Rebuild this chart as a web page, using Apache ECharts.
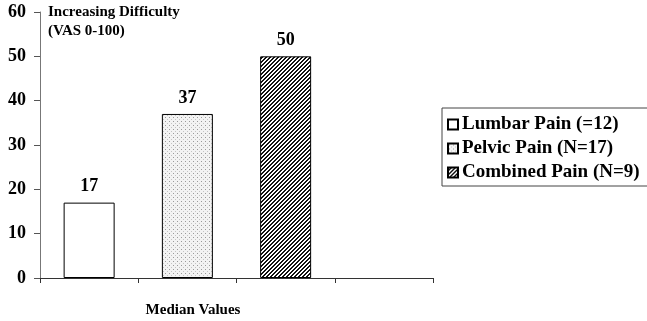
<!DOCTYPE html>
<html>
<head>
<meta charset="utf-8">
<script src="https://cdn.jsdelivr.net/npm/echarts@6/dist/echarts.min.js"></script>
<style>
  html, body { margin: 0; padding: 0; background: #fff; }
  #chart { width: 647px; height: 321px; }
</style>
</head>
<body>
<div id="chart"></div>
<script>
// Median difficulty scores (VAS 0-100) per pain group
const groups = ['Lumbar Pain (=12)', 'Pelvic Pain (N=17)', 'Combined Pain (N=9)'];
const medians = [17, 37, 50];
const slots = ['a', 'b', 'c', 'd'];   // fourth slot stays empty
const yTicks = { min: 0, max: 60, step: 10 };

const SERIF = '"Liberation Serif", "Times New Roman", serif';

// Fill patterns drawn on small tiles
function tile(size, paint) {
  const c = document.createElement('canvas');
  c.width = size; c.height = size;
  const g = c.getContext('2d');
  paint(g);
  return { image: c, repeat: 'repeat' };
}
const plainFill = '#ffffff';
const dotFill = tile(4, g => {
  g.fillStyle = '#f3f3f3'; g.fillRect(0, 0, 4, 4);
  g.fillStyle = '#9a9a9a'; g.fillRect(1, 1, 1, 1);
  g.fillStyle = '#c4c4c4'; g.fillRect(3, 3, 1, 1);
});
const hatchFill = tile(4, g => {
  g.fillStyle = '#ffffff'; g.fillRect(0, 0, 4, 4);
  g.fillStyle = '#111111';
  for (let x = 0; x < 4; x++) {
    g.fillRect(x, 3 - x, 1, 1);
    g.fillRect(x, (6 - x) % 4, 1, 1);
  }
});
const fills = [plainFill, dotFill, hatchFill];

const series = groups.map((name, i) => ({
  name,
  type: 'bar',
  stack: 'median',
  barWidth: 51,
  data: slots.map((_, j) => (j === i ? medians[i] : '-')),
  itemStyle: { color: fills[i], borderColor: '#000', borderWidth: 1 },
  label: {
    show: true, position: 'top', distance: 7,
    fontFamily: SERIF, fontWeight: 'bold', fontSize: 18, color: '#000'
  }
}));

const chart = echarts.init(document.getElementById('chart'), null, { renderer: 'canvas' });
chart.setOption({
  animation: false,
  backgroundColor: '#fff',
  title: {
    text: 'Increasing Difficulty\n(VAS 0-100)',
    left: 48, top: 3, padding: 0,
    textStyle: { fontFamily: SERIF, fontWeight: 'bold', fontSize: 15, lineHeight: 19, color: '#000' }
  },
  grid: { left: 40, right: 214, top: 12, bottom: 43, containLabel: false },
  legend: {
    orient: 'vertical',
    left: 442, top: 108,
    padding: [7, 10, 4, 5],
    itemGap: 5,
    itemWidth: 10, itemHeight: 10,
    icon: 'rect',
    borderColor: '#444', borderWidth: 1,
    textStyle: { fontFamily: SERIF, fontWeight: 'bold', fontSize: 19, color: '#000', padding: [0, 0, 0, -1] },
    data: groups
  },
  xAxis: {
    type: 'category',
    data: slots,
    boundaryGap: true,
    axisLine: { lineStyle: { color: '#333', width: 1 } },
    axisTick: { show: true, interval: 0, length: 5, lineStyle: { color: '#333' } },
    axisLabel: { show: false },
    splitLine: { show: false }
  },
  yAxis: {
    type: 'value',
    min: yTicks.min, max: yTicks.max, interval: yTicks.step,
    axisLine: { show: true, lineStyle: { color: '#777', width: 1 } },
    axisTick: { show: true, length: 6, lineStyle: { color: '#555' } },
    axisLabel: { margin: 14, fontFamily: SERIF, fontWeight: 'bold', fontSize: 18, color: '#000' },
    splitLine: { show: false }
  },
  graphic: [{
    type: 'text',
    x: 193, y: 303,
    style: {
      text: 'Median Values', align: 'center', verticalAlign: 'top',
      font: 'bold 15px ' + SERIF, fill: '#000'
    }
  }],
  series
});
</script>
</body>
</html>
